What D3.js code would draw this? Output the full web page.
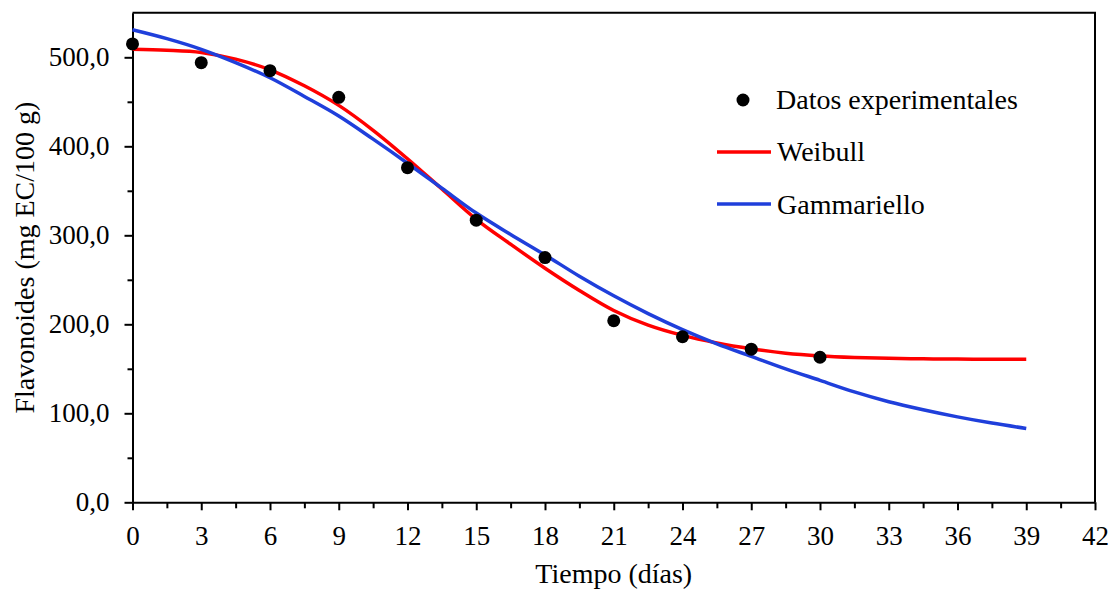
<!DOCTYPE html>
<html>
<head>
<meta charset="utf-8">
<script src="https://cdn.jsdelivr.net/npm/d3@7"></script>
<style>
  html, body { margin: 0; padding: 0; background: #fff; }
  svg { display: block; font-family: "Liberation Serif", "Times New Roman", serif; }
</style>
</head>
<body>
<svg id="chart" width="1111" height="589"></svg>
<script>
// Flavonoid content over storage time, with two fitted models
const dias = [0, 3, 6, 9, 12, 15, 18, 21, 24, 27, 30];
const datosExperimentales = [515, 494, 485, 455, 376, 317, 275, 204, 186, 172, 163];

// Fitted curves sampled every 1.5 days
const tiempoModelo = [0, 1.5, 3, 4.5, 6, 7.5, 9, 10.5, 12, 13.5, 15, 16.5, 18, 19.5, 21,
  22.5, 24, 25.5, 27, 28.5, 30, 31.5, 33, 34.5, 36, 37.5, 39];
const weibull = [509, 508, 505.5, 498, 486, 468, 446, 418, 386, 352, 318, 290, 263, 238, 215.5,
  199, 187.5, 179, 172.5, 167.5, 164.5, 162.8, 161.8, 161.2, 160.9, 160.7, 160.6];
const gammariello = [531, 521, 509, 494, 477, 456, 434, 408, 381, 353, 325, 301, 278, 254, 232,
  212, 194, 178, 164, 150, 137, 124, 113, 104, 96, 89, 83];

const xMajor = d3.range(0, 43, 3);
const xMinor = d3.range(1.5, 42, 3);
const yMajor = [0, 100, 200, 300, 400, 500];
const yMinor = [50, 150, 250, 350, 450];

const serieNombres = ["Datos experimentales", "Weibull", "Gammariello"];
const colores = { Weibull: "#ff0000", Gammariello: "#1f3fdb" };

const svg = d3.select("#chart");
const x = d3.scaleLinear().domain([0, 42]).range([132.5, 1095]);
const y = d3.scaleLinear().domain([0, 550]).range([502.3, 12.8]);
const fmt = d => d3.format(".1f")(d).replace(".", ",");

// Frame (top and right)
svg.append("path")
  .attr("d", `M${x(0)},${y(550)}H${x(42)}V${y(0)}`)
  .attr("fill", "none").attr("stroke", "#000").attr("stroke-width", 2);

// X axis: major and minor ticks
const gx = svg.append("g").attr("transform", `translate(0,${y(0)})`);
gx.call(d3.axisBottom(x).tickValues(xMajor).tickSize(8).tickPadding(16).tickSizeOuter(0).tickFormat(d3.format("d")));
gx.append("g").call(d3.axisBottom(x).tickValues(xMinor).tickSize(6).tickSizeOuter(0).tickFormat(""))
  .select(".domain").remove();

// Y axis: major and minor ticks
const gy = svg.append("g").attr("transform", `translate(${x(0)},0)`);
gy.call(d3.axisLeft(y).tickValues(yMajor).tickSize(8).tickPadding(15).tickSizeOuter(0).tickFormat(fmt));
gy.append("g").call(d3.axisLeft(y).tickValues(yMinor).tickSize(5).tickSizeOuter(0).tickFormat(""))
  .select(".domain").remove();

svg.selectAll(".domain, .tick line").attr("stroke", "#000").attr("stroke-width", 2);
svg.selectAll(".tick text").attr("font-size", 27).attr("fill", "#000")
  .attr("font-family", "Liberation Serif, Times New Roman, serif");

// Axis titles
svg.append("text").attr("x", (x(0) + x(42)) / 2).attr("y", 583)
  .attr("text-anchor", "middle").attr("font-size", 28).attr("xml:space", "preserve")
  .text("Tiempo (días)");
svg.append("text")
  .attr("transform", `translate(34,${(y(0) + y(550)) / 2}) rotate(-90)`)
  .attr("text-anchor", "middle").attr("font-size", 28)
  .text("Flavonoides (mg EC/100 g)");

// Model curves
const linea = vals => d3.line()
  .x((d, i) => x(tiempoModelo[i]))
  .y(d => y(d))
  .curve(d3.curveCatmullRom.alpha(0.5))(vals);

svg.append("path").attr("d", linea(weibull))
  .attr("fill", "none").attr("stroke", colores.Weibull).attr("stroke-width", 3.5);
svg.append("path").attr("d", linea(gammariello))
  .attr("fill", "none").attr("stroke", colores.Gammariello).attr("stroke-width", 3.5);

// Experimental points
svg.append("g").selectAll("circle").data(datosExperimentales).join("circle")
  .attr("cx", (d, i) => x(dias[i])).attr("cy", d => y(d)).attr("r", 6.5).attr("fill", "#000");

// Legend
const leg = svg.append("g");
leg.append("circle").attr("cx", 743).attr("cy", 100).attr("r", 6.5).attr("fill", "#000");
leg.append("text").attr("x", 776).attr("y", 109).attr("font-size", 28).text(serieNombres[0]);
leg.append("line").attr("x1", 717).attr("x2", 771).attr("y1", 152).attr("y2", 152)
  .attr("stroke", colores.Weibull).attr("stroke-width", 3.5);
leg.append("text").attr("x", 777).attr("y", 161).attr("font-size", 28).text(serieNombres[1]);
leg.append("line").attr("x1", 717).attr("x2", 771).attr("y1", 204).attr("y2", 204)
  .attr("stroke", colores.Gammariello).attr("stroke-width", 3.5);
leg.append("text").attr("x", 777).attr("y", 214).attr("font-size", 28).text(serieNombres[2]);
</script>
</body>
</html>
